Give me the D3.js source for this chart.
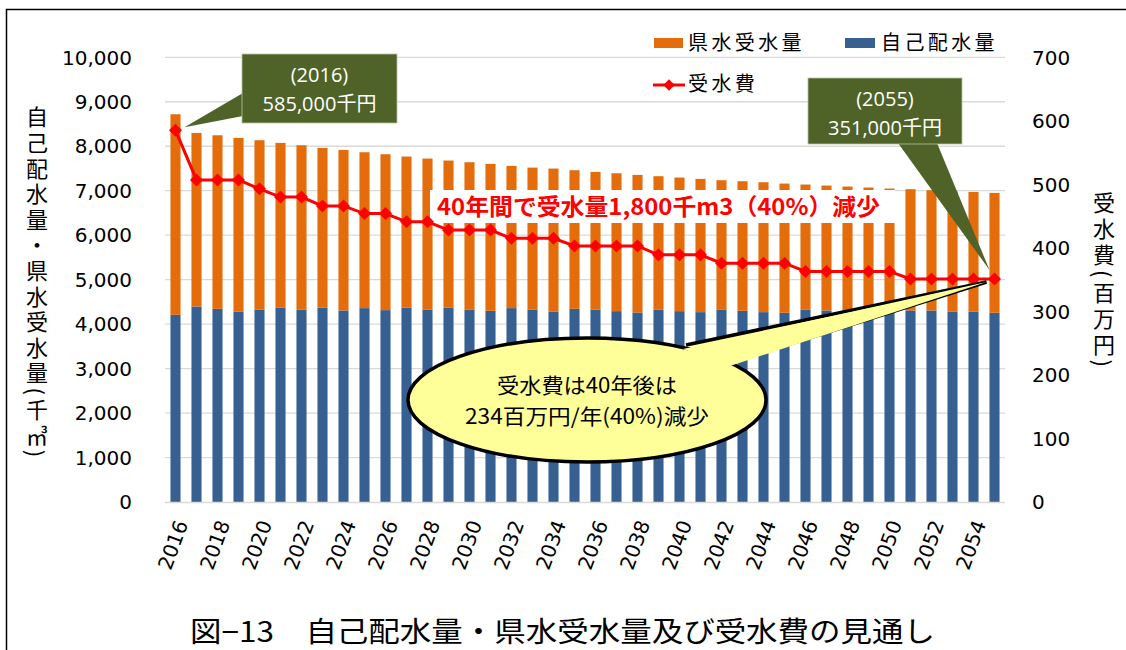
<!DOCTYPE html>
<html>
<head>
<meta charset="utf-8">
<script src="https://cdn.jsdelivr.net/npm/d3@7"></script>
<style>
  body { margin: 0; background: #fff; }
  svg { display: block; }
  .tick-l, .tick-r, .tick-x { font-family: "DejaVu Sans", sans-serif; fill: #000; }
  .jp { font-family: "Noto Sans CJK JP", sans-serif; }
</style>
</head>
<body>
<div id="chart"></div>
<script>
// data
var years = [2016, 2017, 2018, 2019, 2020, 2021, 2022, 2023, 2024, 2025,
             2026, 2027, 2028, 2029, 2030, 2031, 2032, 2033, 2034, 2035,
             2036, 2037, 2038, 2039, 2040, 2041, 2042, 2043, 2044, 2045,
             2046, 2047, 2048, 2049, 2050, 2051, 2052, 2053, 2054, 2055];

// 自己配水量 (千m3)
var selfWater = [4209, 4397, 4344, 4285, 4330, 4375, 4322, 4367, 4307, 4360,
                 4315, 4375, 4330, 4375, 4330, 4300, 4360, 4330, 4285, 4344,
                 4322, 4292, 4262, 4322, 4292, 4270, 4330, 4300, 4270, 4255,
                 4330, 4307, 4285, 4300, 4300, 4307, 4307, 4285, 4285, 4255];

// 県水受水量 (千m3)
var prefWater = [4510, 3902, 3903, 3902, 3805, 3700, 3700, 3595, 3611, 3505,
                 3505, 3393, 3393, 3303, 3310, 3303, 3198, 3190, 3213, 3117,
                 3101, 3101, 3094, 3004, 3004, 2996, 2906, 2913, 2921, 2906,
                 2809, 2809, 2809, 2771, 2749, 2727, 2704, 2704, 2688, 2696];

// 受水費 (百万円)
var waterFee = [585, 507, 507, 507, 493, 480, 480, 466, 466, 454,
                454, 441, 441, 428, 428, 428, 415, 415, 415, 403,
                403, 403, 403, 389, 389, 389, 376, 376, 376, 376,
                363, 363, 363, 363, 363, 351, 351, 351, 351, 351];

var leftTicks = [0, 1000, 2000, 3000, 4000, 5000, 6000, 7000, 8000, 9000, 10000];
var rightTicks = [0, 100, 200, 300, 400, 500, 600, 700];
var xLabelYears = years.filter(function (d, i) { return i % 2 == 0; });

var W = 1126, H = 650;
var plotL = 165, plotR = 1005, plotT = 57.3, plotB = 502;
var orange = "#E46C0A", blue = "#376092", red = "#FF0000", olive = "#4F6228";

var svg = d3.select("#chart").append("svg")
    .attr("width", W)
    .attr("height", H);

// outer frame (only top and left edge are visible in the picture)
svg.append("path")
    .attr("d", "M6.5," + H + "V9.5H" + W)
    .attr("fill", "none")
    .attr("stroke", "#000")
    .attr("stroke-width", 1.5);

var x = d3.scaleBand()
    .domain(years)
    .range([plotL, plotR])
    .paddingInner(0.52)
    .paddingOuter(0.26);

var yL = d3.scaleLinear().domain([0, 10000]).range([plotB, plotT]);
var yR = d3.scaleLinear().domain([0, 700]).range([plotB, plotT]);

// gridlines
svg.append("g").selectAll("line")
    .data(leftTicks.slice(1))
    .enter().append("line")
    .attr("x1", plotL).attr("x2", plotR)
    .attr("y1", function (d) { return yL(d); })
    .attr("y2", function (d) { return yL(d); })
    .attr("stroke", "#d9d9d9")
    .attr("stroke-width", 1.3);

// stacked bars
var stackData = years.map(function (y, i) {
    return {year: y, self: selfWater[i], pref: prefWater[i]};
});
var series = d3.stack().keys(["self", "pref"])(stackData);
var colors = {self: blue, pref: orange};

svg.append("g").selectAll("g")
    .data(series)
    .enter().append("g")
    .attr("fill", function (s) { return colors[s.key]; })
    .selectAll("rect")
    .data(function (s) { return s; })
    .enter().append("rect")
    .attr("x", function (d) { return x(d.data.year); })
    .attr("width", x.bandwidth())
    .attr("y", function (d) { return yL(d[1]); })
    .attr("height", function (d) { return yL(d[0]) - yL(d[1]); });

// baseline
svg.append("line")
    .attr("x1", plotL).attr("x2", plotR)
    .attr("y1", plotB + 0.5).attr("y2", plotB + 0.5)
    .attr("stroke", "#d9d9d9")
    .attr("stroke-width", 1.5);

// left ticks
svg.append("g").selectAll("text")
    .data(leftTicks)
    .enter().append("text")
    .attr("class", "tick-l")
    .attr("x", 132)
    .attr("y", function (d) { return yL(d); })
    .attr("dy", "0.36em")
    .attr("text-anchor", "end")
    .style("font-size", "20px")
    .text(function (d) { return d3.format(",")(d); });

// right ticks
svg.append("g").selectAll("text")
    .data(rightTicks)
    .enter().append("text")
    .attr("class", "tick-r")
    .attr("x", 1032)
    .attr("y", function (d) { return yR(d); })
    .attr("dy", "0.36em")
    .style("font-size", "20px")
    .text(function (d) { return d; });

// x labels, every second year, rotated
svg.append("g").selectAll("text")
    .data(xLabelYears)
    .enter().append("text")
    .attr("class", "tick-x")
    .attr("text-anchor", "end")
    .style("font-size", "20px")
    .attr("transform", function (d) {
        return "translate(" + (x(d) + x.bandwidth() / 2 + 6) + "," + 521 + ") rotate(-70)";
    })
    .attr("dy", "0.36em")
    .text(function (d) { return d; });

// axis titles (vertical)
svg.append("text")
    .attr("class", "jp")
    .attr("x", 37)
    .attr("y", 106)
    .style("writing-mode", "vertical-rl")
    .style("font-size", "22px")
    .style("letter-spacing", "3.6px")
    .text("自己配水量・県水受水量(千㎥)");

svg.append("text")
    .attr("class", "jp")
    .attr("x", 1104)
    .attr("y", 192)
    .style("writing-mode", "vertical-rl")
    .style("font-size", "22px")
    .style("letter-spacing", "4px")
    .text("受水費(百万円)");

// white label box and red annotation
svg.append("rect")
    .attr("x", 430).attr("y", 190)
    .attr("width", 465).attr("height", 33)
    .attr("fill", "#fff");

svg.append("text")
    .attr("class", "jp")
    .attr("x", 437)
    .attr("y", 207)
    .attr("dy", "0.36em")
    .attr("textLength", 443)
    .attr("lengthAdjust", "spacingAndGlyphs")
    .style("font-size", "23px")
    .style("font-weight", "bold")
    .attr("fill", red)
    .text("40年間で受水量1,800千m3（40%）減少");

// fee line
var line = d3.line()
    .x(function (d, i) { return x(years[i]) + x.bandwidth() / 2; })
    .y(function (d) { return yR(d); });

svg.append("path")
    .datum(waterFee)
    .attr("d", line)
    .attr("fill", "none")
    .attr("stroke", red)
    .attr("stroke-width", 3);

svg.append("g").selectAll("rect")
    .data(waterFee)
    .enter().append("rect")
    .attr("x", -4.6).attr("y", -4.6)
    .attr("width", 9.2).attr("height", 9.2)
    .attr("fill", red)
    .attr("transform", function (d, i) {
        return "translate(" + (x(years[i]) + x.bandwidth() / 2) + "," + yR(d) + ") rotate(45)";
    });

// legend
var legend = svg.append("g").attr("class", "jp").style("font-size", "20px").style("letter-spacing", "3.4px");
legend.append("rect").attr("x", 654).attr("y", 38).attr("width", 29).attr("height", 10).attr("fill", orange);
legend.append("text").attr("x", 688).attr("y", 43).attr("dy", "0.36em").text("県水受水量");
legend.append("rect").attr("x", 845).attr("y", 38).attr("width", 30).attr("height", 10).attr("fill", blue);
legend.append("text").attr("x", 881).attr("y", 43).attr("dy", "0.36em").text("自己配水量");
legend.append("line").attr("x1", 653).attr("x2", 685).attr("y1", 85).attr("y2", 85)
    .attr("stroke", red).attr("stroke-width", 3);
legend.append("rect").attr("x", -4).attr("y", -4).attr("width", 8).attr("height", 8)
    .attr("fill", red).attr("transform", "translate(669,85) rotate(45)");
legend.append("text").attr("x", 688).attr("y", 84).attr("dy", "0.36em").text("受水費");

// green callouts
function greenCallout(box, base, tip, lines) {
    var g = svg.append("g");
    g.append("path")
        .attr("d", "M" + base[0] + "L" + tip + "L" + base[1] + "Z")
        .attr("fill", olive);
    g.append("rect")
        .attr("x", box[0]).attr("y", box[1])
        .attr("width", box[2]).attr("height", box[3])
        .attr("fill", olive)
        .attr("stroke", "#b8c4a0")
        .attr("stroke-width", 0.8);
    g.selectAll("text")
        .data(lines)
        .enter().append("text")
        .attr("x", box[0] + box[2] / 2)
        .attr("y", function (d, i) { return box[1] + 21 + i * 29; })
        .attr("dy", "0.36em")
        .attr("text-anchor", "middle")
        .attr("fill", "#fff")
        .style("font-family", "'Open Sans', 'Noto Sans CJK JP', sans-serif")
        .style("font-size", "20px")
        .text(function (d) { return d; });
}

var p0 = [x(years[0]) + x.bandwidth() / 2 + 9, yR(waterFee[0]) - 3];
greenCallout([242, 54, 155, 69], [[243, 93], [243, 116]], p0, ["(2016)", "585,000千円"]);

var pN = [x(years[39]) + x.bandwidth() / 2 - 5, yR(waterFee[39]) - 9];
greenCallout([808, 78, 154, 66], [[898, 143], [937, 143]], pN, ["(2055)", "351,000千円"]);

// yellow speech bubble
var cx = 587, cy = 400, rx = 179, ry = 62;
var tipY = [x(years[39]) + x.bandwidth() / 2 - 8, yR(waterFee[39]) + 3];
var bubble = svg.append("g");
bubble.append("ellipse")
    .attr("cx", cx).attr("cy", cy).attr("rx", rx).attr("ry", ry)
    .attr("fill", "#FFFF99").attr("stroke", "#000").attr("stroke-width", 3.5);
bubble.append("path")
    .attr("d", "M686,345L" + tipY + "L733,362")
    .attr("fill", "#FFFF99").attr("stroke", "#000").attr("stroke-width", 3.5)
    .attr("stroke-linejoin", "miter");
// cover the ellipse outline under the pointer base
bubble.append("path")
    .attr("d", "M683,349L" + tipY + "L730,366Z")
    .attr("fill", "#FFFF99");
bubble.append("text")
    .attr("class", "jp")
    .attr("x", cx).attr("y", 385).attr("dy", "0.36em")
    .attr("text-anchor", "middle")
    .attr("textLength", 180)
    .attr("lengthAdjust", "spacingAndGlyphs")
    .style("font-size", "21px")
    .text("受水費は40年後は");
bubble.append("text")
    .attr("class", "jp")
    .attr("x", cx).attr("y", 416).attr("dy", "0.36em")
    .attr("text-anchor", "middle")
    .attr("textLength", 244)
    .attr("lengthAdjust", "spacingAndGlyphs")
    .style("font-size", "21px")
    .text("234百万円/年(40%)減少");

// caption
svg.append("text")
    .attr("class", "jp")
    .attr("x", 190)
    .attr("y", 632)
    .attr("dy", "0.36em")
    .attr("textLength", 745)
    .attr("lengthAdjust", "spacingAndGlyphs")
    .style("font-size", "28px")
    .text("図−13　自己配水量・県水受水量及び受水費の見通し");
</script>
</body>
</html>
